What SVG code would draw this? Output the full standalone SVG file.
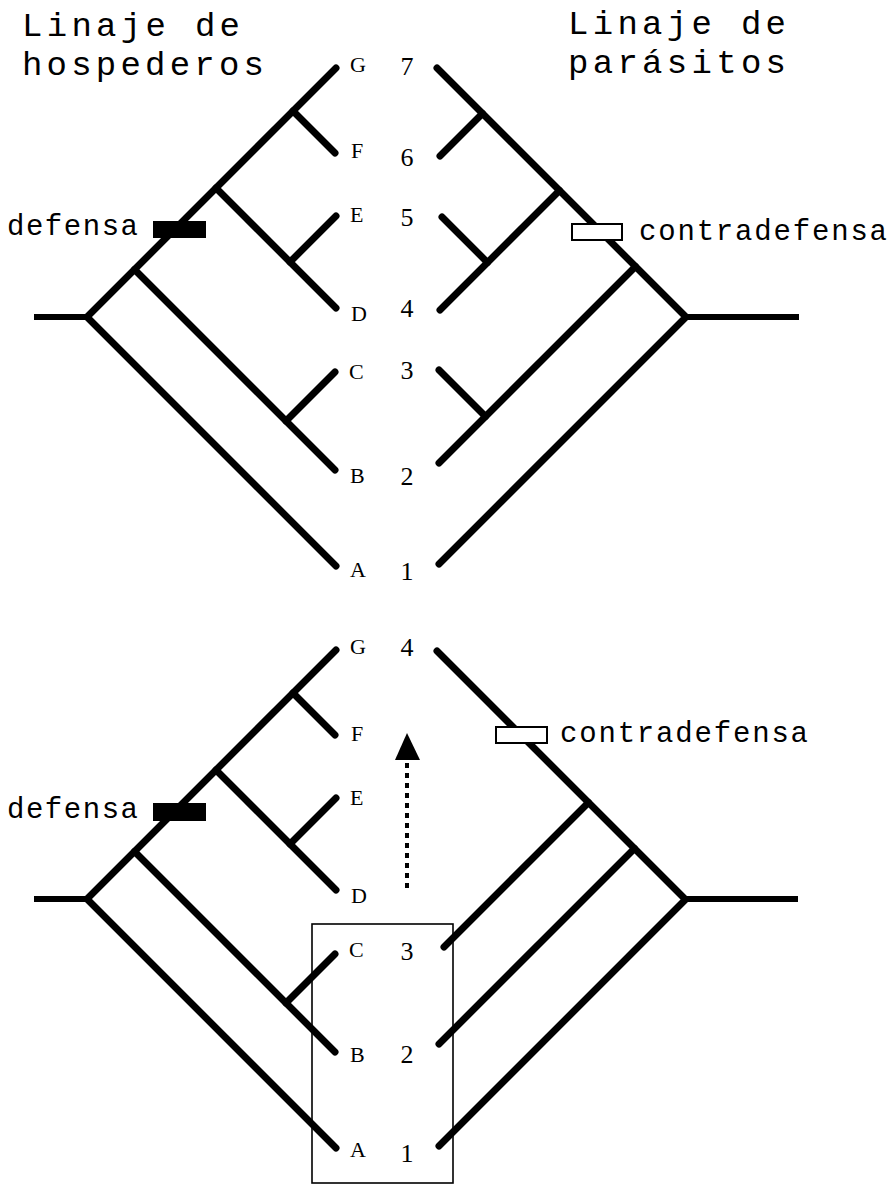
<svg xmlns="http://www.w3.org/2000/svg" width="891" height="1184" viewBox="0 0 891 1184">
<style>
.br{fill:none;stroke:#000;stroke-width:7;stroke-linecap:round;stroke-linejoin:miter}
.stem{fill:none;stroke:#000;stroke-width:6;stroke-linecap:butt}
.title{font-family:"Liberation Mono","Courier New",monospace;font-size:34px;fill:#000}
.mono{font-family:"Liberation Mono","Courier New",monospace;font-size:29px;fill:#000}
.let{font-family:"Liberation Serif","Times New Roman",serif;font-size:22px;fill:#000}
.num{font-family:"Liberation Serif","Times New Roman",serif;font-size:26px;fill:#000;text-anchor:middle}
.def{fill:#000}
.cdef{fill:#fff;stroke:#000;stroke-width:2}
</style>
<rect width="891" height="1184" fill="#fff"/>
<g id="titles">
<text class="title" x="22" y="36" textLength="218" lengthAdjust="spacing">Linaje de</text>
<text class="title" x="22" y="75" textLength="242" lengthAdjust="spacing">hospederos</text>
<text class="title" x="568" y="34" textLength="218" lengthAdjust="spacing">Linaje de</text>
<text class="title" x="568" y="73" textLength="218" lengthAdjust="spacing">parásitos</text>
</g>
<g id="connectors">
<g id="host-tree-top">
<line class="stem" x1="34" y1="317" x2="88" y2="317"/>
<polyline class="br" points="336,566 87,317 336,68"/>
<line class="br" x1="134.5" y1="269.5" x2="335" y2="470"/>
<line class="br" x1="216" y1="188" x2="336" y2="308"/>
<line class="br" x1="293" y1="111" x2="335" y2="153"/>
<line class="br" x1="290" y1="262" x2="336" y2="216"/>
<line class="br" x1="286" y1="421" x2="335" y2="372"/>
</g>
<g id="parasite-tree-top">
<line class="stem" x1="685" y1="317" x2="799" y2="317"/>
<polyline class="br" points="437,68 686,317 439,564"/>
<line class="br" x1="482.5" y1="113.5" x2="440" y2="156"/>
<line class="br" x1="559.5" y1="190.5" x2="440" y2="310"/>
<line class="br" x1="487.5" y1="262.5" x2="442" y2="217"/>
<line class="br" x1="635.5" y1="266.5" x2="439" y2="463"/>
<line class="br" x1="485.5" y1="416.5" x2="439" y2="370"/>
</g>
<g id="host-tree-bottom" transform="translate(0,582)">
<line class="stem" x1="34" y1="317" x2="88" y2="317"/>
<polyline class="br" points="336,566 87,317 336,68"/>
<line class="br" x1="134.5" y1="269.5" x2="335" y2="470"/>
<line class="br" x1="216" y1="188" x2="336" y2="308"/>
<line class="br" x1="293" y1="111" x2="335" y2="153"/>
<line class="br" x1="290" y1="262" x2="336" y2="216"/>
<line class="br" x1="286" y1="421" x2="335" y2="372"/>
</g>
<g id="parasite-tree-bottom">
<line class="stem" x1="684" y1="899" x2="798" y2="899"/>
<polyline class="br" points="437,651 685.5,899.5 439,1146"/>
<line class="br" x1="588.5" y1="802.5" x2="444" y2="947"/>
<line class="br" x1="634.5" y1="848.5" x2="439" y2="1044"/>
</g>
<g id="arrow">
<line x1="407" y1="888" x2="407" y2="760" stroke="#000" stroke-width="4" stroke-dasharray="5,5"/>
<polygon points="407,733 395,760 420,760" fill="#000"/>
</g>
</g>
<g id="markers">
<rect class="def" x="153" y="221" width="53" height="17"/>
<text class="mono" x="7" y="235" textLength="131" lengthAdjust="spacing">defensa</text>
<rect class="cdef" x="572" y="224" width="50" height="16"/>
<text class="mono" x="639" y="240" textLength="248" lengthAdjust="spacing">contradefensa</text>
<rect class="def" x="153" y="803" width="53" height="18"/>
<text class="mono" x="7" y="818" textLength="131" lengthAdjust="spacing">defensa</text>
<rect class="cdef" x="496" y="727" width="51" height="16"/>
<text class="mono" x="560" y="742" textLength="248" lengthAdjust="spacing">contradefensa</text>
</g>
<g id="labels-top">
<text class="let" x="350" y="72">G</text>
<text class="let" x="351" y="158">F</text>
<text class="let" x="350" y="222">E</text>
<text class="let" x="351" y="321">D</text>
<text class="let" x="349" y="379">C</text>
<text class="let" x="350" y="483">B</text>
<text class="let" x="350" y="577">A</text>
<text class="num" x="407" y="75">7</text>
<text class="num" x="407" y="166">6</text>
<text class="num" x="407" y="226">5</text>
<text class="num" x="407" y="317">4</text>
<text class="num" x="407" y="379">3</text>
<text class="num" x="407" y="485">2</text>
<text class="num" x="407" y="580">1</text>
</g>
<g id="labels-bottom">
<text class="let" x="350" y="654">G</text>
<text class="let" x="351" y="741">F</text>
<text class="let" x="350" y="805">E</text>
<text class="let" x="351" y="903">D</text>
<text class="let" x="349" y="957">C</text>
<text class="let" x="350" y="1062">B</text>
<text class="let" x="350" y="1157">A</text>
<text class="num" x="407" y="656">4</text>
<text class="num" x="407" y="960">3</text>
<text class="num" x="407" y="1063">2</text>
<text class="num" x="407" y="1162">1</text>
</g>
<g id="box">
<rect x="312" y="924" width="141" height="259" fill="none" stroke="#000" stroke-width="1.6"/>
</g>
</svg>
